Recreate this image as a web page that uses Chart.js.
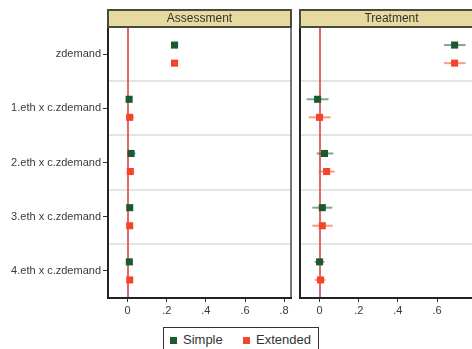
<!DOCTYPE html>
<html>
<head>
<meta charset="utf-8">
<script src="https://cdn.jsdelivr.net/npm/chart.js@4/dist/chart.umd.min.js"></script>
<style>
  html, body { margin: 0; padding: 0; background: #fff; overflow: hidden; width: 472px; height: 349px; }
  canvas { position: absolute; top: 0; }
  #left { left: 0; }
  #right { left: 295px; }
  #legend {
    position: absolute; left: 163px; top: 327px; width: 156px; height: 30px;
    border: 1px solid #333; box-sizing: border-box;
    font: 13px "Liberation Sans", Arial, sans-serif; color: #333;
  }
  #legend span.item { position: absolute; top: 4px; white-space: nowrap; }
  #legend i { display: inline-block; width: 7px; height: 7px; margin-right: 6px; vertical-align: 0px; }
</style>
</head>
<body>
<canvas id="left" width="296" height="322"></canvas>
<canvas id="right" width="193" height="322"></canvas>
<div id="legend"></div>
<script>
// rows, top to bottom
const categories = ['zdemand', '1.eth x c.zdemand', '2.eth x c.zdemand', '3.eth x c.zdemand', '4.eth x c.zdemand'];
const panelTitles = ['Assessment', 'Treatment'];
const seriesNames = ['Simple', 'Extended'];
const xTicks = [0, 0.2, 0.4, 0.6, 0.8];

// Assessment panel
const assessSimple     = [0.240, 0.008, 0.018, 0.011, 0.009];
const assessSimpleLo   = [0.226, -0.004, 0.000, -0.002, -0.002];
const assessSimpleHi   = [0.254, 0.020, 0.040, 0.024, 0.020];
const assessExtended   = [0.240, 0.011, 0.014, 0.011, 0.011];
const assessExtendedLo = [0.226, -0.008, -0.004, -0.004, -0.002];
const assessExtendedHi = [0.254, 0.032, 0.034, 0.026, 0.024];

// Treatment panel
const treatSimple     = [0.690, -0.010, 0.025, 0.014, 0.000];
const treatSimpleLo   = [0.636, -0.066, -0.015, -0.037, -0.025];
const treatSimpleHi   = [0.746, 0.046, 0.070, 0.065, 0.025];
const treatExtended   = [0.690, 0.000, 0.036, 0.014, 0.005];
const treatExtendedLo = [0.636, -0.056, -0.005, -0.037, -0.025];
const treatExtendedHi = [0.746, 0.056, 0.077, 0.067, 0.030];

const colors = ['#1b5a2e', '#f4452a'];
const ciColors = ['rgba(27,90,46,0.55)', 'rgba(244,69,42,0.55)'];
const rowShift = [-1 / 6, 1 / 6];
const font = { family: '"Liberation Sans", Arial, sans-serif', size: 11 };

// separators, zero line and confidence bars under the markers
const backdrop = {
    id: 'backdrop',
    beforeDatasetsDraw(chart) {
        const { ctx, chartArea: a, scales: { x, y } } = chart;
        ctx.save();
        ctx.lineWidth = 2;
        ctx.strokeStyle = '#e4e4e4';
        for (let i = 1; i < categories.length; i++) {
            const py = Math.round(y.getPixelForValue(i + 0.5));
            ctx.beginPath();
            ctx.moveTo(a.left, py);
            ctx.lineTo(a.right, py);
            ctx.stroke();
        }
        const zx = Math.round(x.getPixelForValue(0));
        ctx.strokeStyle = 'rgba(215,55,60,0.75)';
        ctx.beginPath();
        ctx.moveTo(zx, a.top);
        ctx.lineTo(zx, a.bottom);
        ctx.stroke();
        chart.data.datasets.forEach((ds, i) => {
            const meta = chart.getDatasetMeta(i);
            ctx.strokeStyle = ds.ciColor;
            meta.data.forEach((pt, j) => {
                ctx.beginPath();
                ctx.moveTo(x.getPixelForValue(ds.lo[j]), pt.y);
                ctx.lineTo(x.getPixelForValue(ds.hi[j]), pt.y);
                ctx.stroke();
            });
        });
        ctx.restore();
    },
    afterDraw(chart, args, opts) {
        const { ctx, chartArea: a } = chart;
        ctx.save();
        // frame
        ctx.lineWidth = 2;
        ctx.strokeStyle = '#777';
        ctx.beginPath();
        ctx.moveTo(a.right, a.top);
        ctx.lineTo(a.right, a.bottom);
        ctx.stroke();
        ctx.strokeStyle = '#222';
        ctx.beginPath();
        ctx.moveTo(a.left, a.top);
        ctx.lineTo(a.left, a.bottom);
        ctx.lineTo(a.right + 1, a.bottom);
        ctx.stroke();
        // header strip
        ctx.fillStyle = '#e6daa0';
        ctx.fillRect(a.left, a.top - 17, a.right - a.left, 17);
        ctx.strokeStyle = '#4a4a3a';
        ctx.strokeRect(a.left, a.top - 17, a.right - a.left, 17);
        ctx.fillStyle = '#333';
        ctx.font = '12px "Liberation Sans", Arial, sans-serif';
        ctx.textAlign = 'center';
        ctx.textBaseline = 'middle';
        ctx.fillText(opts.title, (a.left + a.right) / 2, a.top - 8);
        ctx.restore();
    }
};

function makePanel(id, title, series, showLabels) {
    const datasets = series.map((s, k) => ({
        label: seriesNames[k],
        data: s.values.map((v, j) => ({ x: v, y: j + 1 + rowShift[k] })),
        lo: s.lo,
        hi: s.hi,
        ciColor: ciColors[k],
        backgroundColor: colors[k],
        borderWidth: 0,
        pointStyle: 'rect',
        pointRadius: 5,
        pointHoverRadius: 5
    }));

    return new Chart(document.getElementById(id), {
        type: 'scatter',
        data: { datasets },
        plugins: [backdrop],
        options: {
            responsive: false,
            animation: false,
            layout: { padding: { top: 27, right: 5, left: showLabels ? 0 : 5, bottom: 0 } },
            plugins: {
                legend: { display: false },
                tooltip: { enabled: false },
                backdrop: { title }
            },
            scales: {
                x: {
                    type: 'linear',
                    min: -0.1,
                    max: 0.835,
                    afterBuildTicks: scale => { scale.ticks = xTicks.map(v => ({ value: v })); },
                    afterFit: scale => { scale.height = 24; },
                    ticks: {
                        font, color: '#3a3a3a', padding: 2, maxRotation: 0,
                        callback: v => v === 0 ? '0' : String(Math.round(v * 10) / 10).replace('0.', '.')
                    },
                    grid: { drawOnChartArea: false, tickLength: 4, color: '#333' },
                    border: { display: false }
                },
                y: {
                    type: 'linear',
                    display: showLabels,
                    min: 0.5,
                    max: 5.5,
                    reverse: true,
                    afterBuildTicks: scale => { scale.ticks = categories.map((c, i) => ({ value: i + 1 })); },
                    afterFit: scale => { scale.width = showLabels ? 108 : 0; },
                    ticks: {
                        font, color: '#3a3a3a', padding: 2, autoSkip: false,
                        callback: (v, i) => categories[i]
                    },
                    grid: { drawOnChartArea: false, tickLength: 5, color: '#333' },
                    border: { display: false }
                }
            }
        }
    });
}

makePanel('left', panelTitles[0], [
    { values: assessSimple, lo: assessSimpleLo, hi: assessSimpleHi },
    { values: assessExtended, lo: assessExtendedLo, hi: assessExtendedHi }
], true);

makePanel('right', panelTitles[1], [
    { values: treatSimple, lo: treatSimpleLo, hi: treatSimpleHi },
    { values: treatExtended, lo: treatExtendedLo, hi: treatExtendedHi }
], false);

// legend built from the series names
const legendLefts = [6, 79];
document.getElementById('legend').innerHTML = seriesNames.map((name, k) =>
    `<span class="item" style="left:${legendLefts[k]}px"><i style="background:${colors[k]}"></i>${name}</span>`
).join('');
</script>
</body>
</html>
